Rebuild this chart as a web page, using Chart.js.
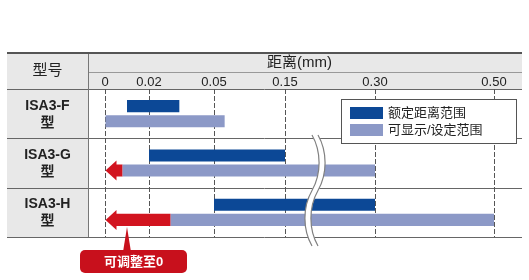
<!DOCTYPE html>
<html>
<head>
<meta charset="utf-8">
<script src="https://cdn.jsdelivr.net/npm/chart.js@4.4.1/dist/chart.umd.min.js"></script>
<style>
  html, body { margin: 0; padding: 0; background: #fff; }
  #wrap { width: 529px; height: 280px; }
</style>
</head>
<body>
<div id="wrap"><canvas id="chart" width="529" height="280"></canvas></div>
<script>
// ---- data ----
const categories = [['ISA3-F', '型'], ['ISA3-G', '型'], ['ISA3-H', '型']];
const tickValues = [0, 0.02, 0.05, 0.15, 0.30, 0.50];
const tickLabels = ['0', '0.02', '0.05', '0.15', '0.30', '0.50'];
const ratedStart = [0.01, 0.02, 0.05];
const ratedEnd = [0.034, 0.15, 0.30];
const displayStart = [0, 0.008, 0.03];
const displayEnd = [0.065, 0.30, 0.50];
const adjustableTo = [null, 0, 0];
const seriesNames = ['额定距离范围', '可显示/设定范围', '可调整至0'];
const axisTitle = '距离(mm)';
const modelHeader = '型号';

// ---- look ----
const FONT = '"Liberation Sans", "Noto Sans CJK SC", sans-serif';
const COLORS = { rated: '#0c4896', display: '#8c99c7', adjust: '#d2141f', text: '#222', line: '#555', fill: '#e8e8e8' };
// relative widths of the axis between consecutive ticks (the axis is not to scale)
const SEGMENT_WEIGHTS = [44, 65, 71, 90, 119];
const BREAK_VALUE = 0.2;       // where the axis break is drawn
const CALLOUT_VALUE = 0.01;    // where the callout points on the last row

// Linear axis whose tick intervals get individual widths
class SegmentedScale extends Chart.LinearScale {
  buildTicks() {
    return tickValues.map(value => ({ value }));
  }
  _fraction(v) {
    const total = SEGMENT_WEIGHTS.reduce((a, b) => a + b, 0);
    let acc = 0;
    const n = tickValues.length - 1;
    for (let i = 0; i < n; i++) {
      const a = tickValues[i], b = tickValues[i + 1];
      if (v <= b || i === n - 1) return (acc + (v - a) / (b - a) * SEGMENT_WEIGHTS[i]) / total;
      acc += SEGMENT_WEIGHTS[i];
    }
    return 0;
  }
  getPixelForValue(v) {
    if (v === null || v === undefined || isNaN(v)) return NaN;
    return this.getPixelForDecimal(this._fraction(v));
  }
  getValueForPixel(p) {
    const total = SEGMENT_WEIGHTS.reduce((a, b) => a + b, 0);
    const f = this.getDecimalForPixel(p) * total;
    let acc = 0;
    const n = tickValues.length - 1;
    for (let i = 0; i < n; i++) {
      if (f <= acc + SEGMENT_WEIGHTS[i] || i === n - 1) {
        return tickValues[i] + (f - acc) / SEGMENT_WEIGHTS[i] * (tickValues[i + 1] - tickValues[i]);
      }
      acc += SEGMENT_WEIGHTS[i];
    }
    return 0;
  }
}
SegmentedScale.id = 'segmented';
SegmentedScale.defaults = Chart.LinearScale.defaults;
Chart.register(SegmentedScale);

const ADJUST_INDEX = 2;
const HEAD_LEN = 11, HEAD_HALF = 10;

// Table frame: grey header / model column, rule lines, arrows, break, legend, callout
const tablePlugin = {
  id: 'tableFrame',
  beforeDraw(chart) {
    const { ctx, chartArea: ca } = chart;
    const L = 7, R = 522, T = 53, COL = 88, SPLIT = 72;
    ctx.save();
    ctx.fillStyle = COLORS.fill;
    ctx.fillRect(L, T, COL - L, ca.bottom - T);
    ctx.fillRect(COL, T, R - COL, ca.top - T);
    ctx.strokeStyle = '#999';
    ctx.lineWidth = 1;
    ctx.beginPath(); ctx.moveTo(COL, SPLIT + 0.5); ctx.lineTo(R, SPLIT + 0.5); ctx.stroke();
    ctx.strokeStyle = '#666';
    const yScale = chart.scales.y;
    const rows = [ca.top];
    for (let i = 0; i < categories.length - 1; i++) {
      rows.push((yScale.getPixelForValue(i) + yScale.getPixelForValue(i + 1)) / 2);
    }
    rows.push(ca.bottom);
    rows.forEach(y => {
      const yy = Math.round(y) + 0.5;
      ctx.beginPath(); ctx.moveTo(L, yy); ctx.lineTo(R, yy); ctx.stroke();
    });
    ctx.strokeStyle = '#777';
    ctx.beginPath(); ctx.moveTo(COL + 0.5, T); ctx.lineTo(COL + 0.5, ca.bottom); ctx.stroke();
    ctx.strokeStyle = COLORS.line;
    ctx.lineWidth = 2;
    ctx.beginPath(); ctx.moveTo(L, T); ctx.lineTo(R, T); ctx.stroke();
    // model header and row labels
    ctx.fillStyle = COLORS.text;
    ctx.textAlign = 'center';
    ctx.textBaseline = 'middle';
    ctx.font = '15px ' + FONT;
    ctx.fillText(modelHeader, (L + COL) / 2, (T + ca.top) / 2);
    ctx.font = 'bold 14px ' + FONT;
    chart.data.labels.forEach((lab, i) => {
      const y = yScale.getPixelForValue(i);
      ctx.fillText(lab[0], (L + COL) / 2, y - 8);
      ctx.fillText(lab[1], (L + COL) / 2, y + 9);
    });
    ctx.restore();
  },
  beforeDatasetDraw(chart, args) {
    if (args.index !== ADJUST_INDEX) return;
    const ctx = chart.ctx;
    const x0 = chart.scales.x.getPixelForValue(0) + HEAD_LEN - 0.5;
    ctx.save();
    ctx.beginPath();
    ctx.rect(x0, 0, chart.width - x0, chart.height);
    ctx.clip();
  },
  afterDatasetDraw(chart, args) {
    if (args.index !== ADJUST_INDEX) return;
    const ctx = chart.ctx;
    ctx.restore();
    ctx.save();
    ctx.fillStyle = COLORS.adjust;
    args.meta.data.forEach((el, i) => {
      if (adjustableTo[i] === null) return;
      const tip = Math.min(el.x, el.base);
      ctx.beginPath();
      ctx.moveTo(tip, el.y);
      ctx.lineTo(tip + HEAD_LEN, el.y - HEAD_HALF);
      ctx.lineTo(tip + HEAD_LEN, el.y + HEAD_HALF);
      ctx.closePath();
      ctx.fill();
    });
    ctx.restore();
  },
  afterDatasetsDraw(chart) {
    const { ctx, chartArea: ca } = chart;
    const xs = chart.scales.x;
    ctx.save();

    // axis break (double wavy line)
    const bx = xs.getPixelForValue(BREAK_VALUE);
    const top = ca.top + 46, bot = ca.bottom + 9, amp = 7, gap = 3;
    const wave = (dx) => {
      const h = (bot - top) / 2;
      ctx.moveTo(bx + dx, top);
      ctx.bezierCurveTo(bx + dx + amp * 1.35, top + h * 0.3, bx + dx + amp * 1.35, top + h * 0.7, bx + dx, top + h);
      ctx.bezierCurveTo(bx + dx - amp * 1.35, top + h * 1.3, bx + dx - amp * 1.35, top + h * 1.7, bx + dx, bot);
    };
    ctx.beginPath();
    ctx.strokeStyle = '#fff';
    ctx.lineWidth = gap * 2;
    wave(0);
    ctx.stroke();
    ctx.strokeStyle = '#808080';
    ctx.lineWidth = 1.2;
    ctx.beginPath(); wave(-gap); ctx.stroke();
    ctx.beginPath(); wave(gap); ctx.stroke();

    // legend box
    const lx = ca.right - 153, ly = ca.top + 10, lw = 175, lh = 44;
    ctx.fillStyle = '#fff';
    ctx.fillRect(lx, ly, lw, lh);
    ctx.strokeStyle = COLORS.line;
    ctx.lineWidth = 1;
    ctx.strokeRect(lx + 0.5, ly + 0.5, lw, lh);
    ctx.font = '13px ' + FONT;
    ctx.textAlign = 'left';
    ctx.textBaseline = 'middle';
    [0, 1].forEach((d, i) => {
      const ds = chart.data.datasets[d];
      const sy = ly + 8 + i * 17;
      ctx.fillStyle = ds.backgroundColor;
      ctx.fillRect(lx + 9, sy, 33, 12);
      ctx.fillStyle = COLORS.text;
      ctx.fillText(ds.label, lx + 47, sy + 6.5);
    });

    // callout
    const meta = chart.getDatasetMeta(ADJUST_INDEX);
    const el = meta.data[categories.length - 1];
    if (el && Number.isFinite(el.y)) {
      const px = xs.getPixelForValue(CALLOUT_VALUE);
      const tipY = el.y + el.height / 2 + 1;
      const bxTop = tipY + 23, bw = 107, bh = 23;
      const bLeft = px + 6.5 - bw / 2;
      ctx.fillStyle = '#c8101c';
      ctx.beginPath();
      ctx.moveTo(px, tipY);
      ctx.lineTo(px + 4, bxTop + 2);
      ctx.lineTo(px - 4, bxTop + 2);
      ctx.closePath();
      ctx.fill();
      ctx.beginPath();
      ctx.roundRect(bLeft, bxTop, bw, bh, 5);
      ctx.fill();
      ctx.fillStyle = '#fff';
      ctx.font = 'bold 13px ' + FONT;
      ctx.textAlign = 'center';
      ctx.fillText(chart.data.datasets[ADJUST_INDEX].label, bLeft + bw / 2, bxTop + bh / 2 + 1);
    }
    ctx.restore();
  }
};

const chart = new Chart(document.getElementById('chart'), {
  type: 'bar',
  data: {
    labels: categories,
    datasets: [
      {
        label: seriesNames[0],
        data: ratedStart.map((s, i) => [s, ratedEnd[i]]),
        backgroundColor: COLORS.rated,
        stack: 'rated'
      },
      {
        label: seriesNames[1],
        data: displayStart.map((s, i) => [s, displayEnd[i]]),
        backgroundColor: COLORS.display,
        stack: 'display'
      },
      {
        label: seriesNames[2],
        data: adjustableTo.map((a, i) => (a === null ? null : [a, displayStart[i]])),
        backgroundColor: COLORS.adjust,
        stack: 'display'
      }
    ]
  },
  options: {
    indexAxis: 'y',
    responsive: false,
    animation: false,
    devicePixelRatio: 1,
    layout: { padding: { left: 105, right: 35, top: 53.4, bottom: 43 } },
    datasets: {
      bar: { categoryPercentage: 0.612, barPercentage: 0.8, borderWidth: 0, borderSkipped: false }
    },
    scales: {
      x: {
        type: 'segmented',
        position: 'top',
        min: 0,
        max: 0.5,
        stacked: false,
        grid: { display: true, drawTicks: false, color: COLORS.line, lineWidth: 1 },
        border: { display: false, dash: [5, 2] },
        ticks: {
          autoSkip: false,
          maxRotation: 0,
          padding: -1,
          color: COLORS.text,
          font: { family: FONT, size: 13 },
          callback: (v, i) => tickLabels[i]
        },
        title: {
          display: true,
          text: axisTitle,
          color: COLORS.text,
          font: { family: FONT, size: 15 },
          padding: { top: 0, bottom: 4 }
        }
      },
      y: {
        display: false
      }
    },
    plugins: {
      legend: { display: false },
      tooltip: { enabled: false }
    }
  },
  plugins: [tablePlugin]
});
</script>
</body>
</html>
